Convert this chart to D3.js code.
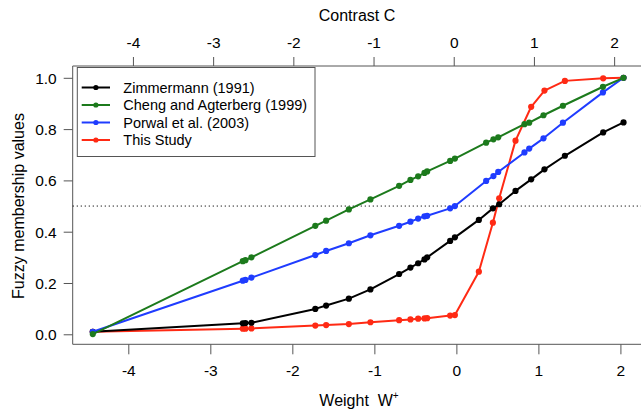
<!DOCTYPE html>
<html>
<head>
<meta charset="utf-8">
<script src="https://cdn.jsdelivr.net/npm/d3@7"></script>
<style>
  html, body { margin: 0; padding: 0; background: #fff; }
  svg { display: block; }
  text { font-family: "Liberation Sans", Arial, sans-serif; fill: #000; }
</style>
</head>
<body>
<div id="chart"></div>
<script>
// ---- data ----
const weightsLeft = [-4.433, -2.604, -2.572, -2.499, -1.720, -1.588, -1.311, -1.048,
                     -0.698, -0.560, -0.466, -0.389, -0.356, -0.076, -0.018];
const weightsRightA = [0.274, 0.445, 0.522, 0.721, 0.912, 1.074, 1.323, 1.790, 2.038]; // Zimmermann, This Study
const weightsRightB = [0.363, 0.452, 0.510, 0.830, 0.888, 1.062, 1.299, 1.787, 2.038]; // Cheng, Porwal
const weightsA = weightsLeft.concat(weightsRightA);
const weightsB = weightsLeft.concat(weightsRightB);

const zimmermann = [0.010, 0.043, 0.044, 0.045, 0.099, 0.112, 0.139, 0.175, 0.235, 0.260, 0.277, 0.292,
                    0.300, 0.364, 0.378, 0.446, 0.491, 0.507, 0.559, 0.604, 0.643, 0.696, 0.787, 0.826];
const cheng      = [0.001, 0.285, 0.289, 0.300, 0.423, 0.443, 0.487, 0.526, 0.579, 0.602, 0.616, 0.629,
                    0.635, 0.676, 0.685, 0.747, 0.760, 0.768, 0.819, 0.825, 0.854, 0.891, 0.965, 1.000];
const porwal     = [0.010, 0.209, 0.212, 0.221, 0.309, 0.325, 0.355, 0.386, 0.423, 0.439, 0.451, 0.460,
                    0.462, 0.491, 0.500, 0.598, 0.617, 0.633, 0.709, 0.724, 0.764, 0.825, 0.943, 1.000];
const thisStudy  = [0.010, 0.022, 0.022, 0.023, 0.034, 0.036, 0.040, 0.047, 0.055, 0.058, 0.061, 0.062,
                    0.063, 0.073, 0.075, 0.244, 0.435, 0.530, 0.755, 0.887, 0.950, 0.988, 0.998, 1.000];

const seriesNames = ["Zimmermann (1991)", "Cheng and Agterberg (1999)", "Porwal et al. (2003)", "This Study"];
const seriesColors = ["#000000", "#1c7a1c", "#1f3cff", "#ff2a14"];
const seriesValues = [zimmermann, cheng, porwal, thisStudy];
const seriesWeights = [weightsA, weightsB, weightsB, weightsA];
const drawOrder = [3, 0, 2, 1];

const bottomTicks = [-4, -3, -2, -1, 0, 1, 2];
const topTicks = [-4, -3, -2, -1, 0, 1, 2];
const yTicks = [0, 0.2, 0.4, 0.6, 0.8, 1.0];
const threshold = 0.5;

// ---- layout ----
const W = 641, H = 414;
const pLeft = 72.7, pRight = 641, pTop = 66, pBottom = 344.3;
const frameColor = "#555";

const svg = d3.select("#chart").append("svg").attr("width", W).attr("height", H);

const x = d3.scaleLinear().domain([-4.678, 2.251]).range([pLeft, pRight]);
const xTop = d3.scaleLinear().domain([-4.751, 2.335]).range([pLeft, pRight]);
const y = d3.scaleLinear().domain([-0.039, 1.046]).range([pBottom, pTop]);

const intFmt = d => String(d);

// axes
const gx = svg.append("g").attr("transform", `translate(0,${pBottom})`)
  .call(d3.axisBottom(x).tickValues(bottomTicks).tickFormat(intFmt).tickSize(10).tickPadding(10.7));
const gxt = svg.append("g").attr("transform", `translate(0,${pTop})`)
  .call(d3.axisTop(xTop).tickValues(topTicks).tickFormat(intFmt).tickSize(9).tickPadding(9));
const gy = svg.append("g").attr("transform", `translate(${pLeft},0)`)
  .call(d3.axisLeft(y).tickValues(yTicks).tickFormat(d => d.toFixed(1)).tickSize(9).tickPadding(7));

[gx, gxt, gy].forEach(g => {
  g.select(".domain").remove();
  g.selectAll(".tick line").attr("stroke", frameColor).attr("stroke-width", 1);
  g.selectAll(".tick text").attr("font-size", 15.5).attr("fill", "#000")
    .style("font-family", '"Liberation Sans", Arial, sans-serif');
});
gy.selectAll(".tick text").attr("dy", "0.36em");

// frame (left, top, bottom)
svg.append("path")
  .attr("d", `M${pRight},${pTop}H${pLeft}V${pBottom}H${pRight}`)
  .attr("fill", "none").attr("stroke", frameColor).attr("stroke-width", 1);

// threshold dotted line
svg.append("line")
  .attr("x1", pLeft).attr("x2", pRight)
  .attr("y1", y(threshold)).attr("y2", y(threshold))
  .attr("stroke", "#222").attr("stroke-width", 1).attr("stroke-dasharray", "1.3,2.7");

// series
const line = d3.line().x(d => x(d[0])).y(d => y(d[1]));
drawOrder.forEach(i => {
  const pts = seriesWeights[i].map((w, j) => [w, seriesValues[i][j]]);
  const g = svg.append("g");
  g.append("path").datum(pts).attr("d", line)
    .attr("fill", "none").attr("stroke", seriesColors[i]).attr("stroke-width", 2)
    .attr("stroke-linejoin", "round");
  g.selectAll("circle").data(pts).join("circle")
    .attr("cx", d => x(d[0])).attr("cy", d => y(d[1])).attr("r", 3.1)
    .attr("fill", seriesColors[i]);
});

// legend
const leg = svg.append("g");
leg.append("rect").attr("x", 77.3).attr("y", 67.5).attr("width", 237.7).attr("height", 89)
  .attr("fill", "#fff").attr("stroke", frameColor).attr("stroke-width", 1);
seriesNames.forEach((name, i) => {
  const cy = 87.5 + i * 17.5;
  leg.append("line").attr("x1", 81.7).attr("x2", 110).attr("y1", cy).attr("y2", cy)
    .attr("stroke", seriesColors[i]).attr("stroke-width", 2);
  leg.append("circle").attr("cx", 95.9).attr("cy", cy).attr("r", 2.6).attr("fill", seriesColors[i]);
  leg.append("text").attr("x", 123.3).attr("y", cy + 5.2).attr("font-size", 14.5).text(name);
});

// titles
svg.append("text").attr("x", 357).attr("y", 20.7).attr("text-anchor", "middle")
  .attr("font-size", 16).text("Contrast C");

const xt = svg.append("text").attr("x", 359).attr("y", 405.5).attr("text-anchor", "middle")
  .attr("font-size", 16);
xt.append("tspan").text("Weight\u00A0 W");
xt.append("tspan").attr("font-size", 10).attr("dy", -7).text("+");

svg.append("text").attr("transform", "translate(24,206) rotate(-90)")
  .attr("text-anchor", "middle").attr("font-size", 16).text("Fuzzy membership values");
</script>
</body>
</html>
